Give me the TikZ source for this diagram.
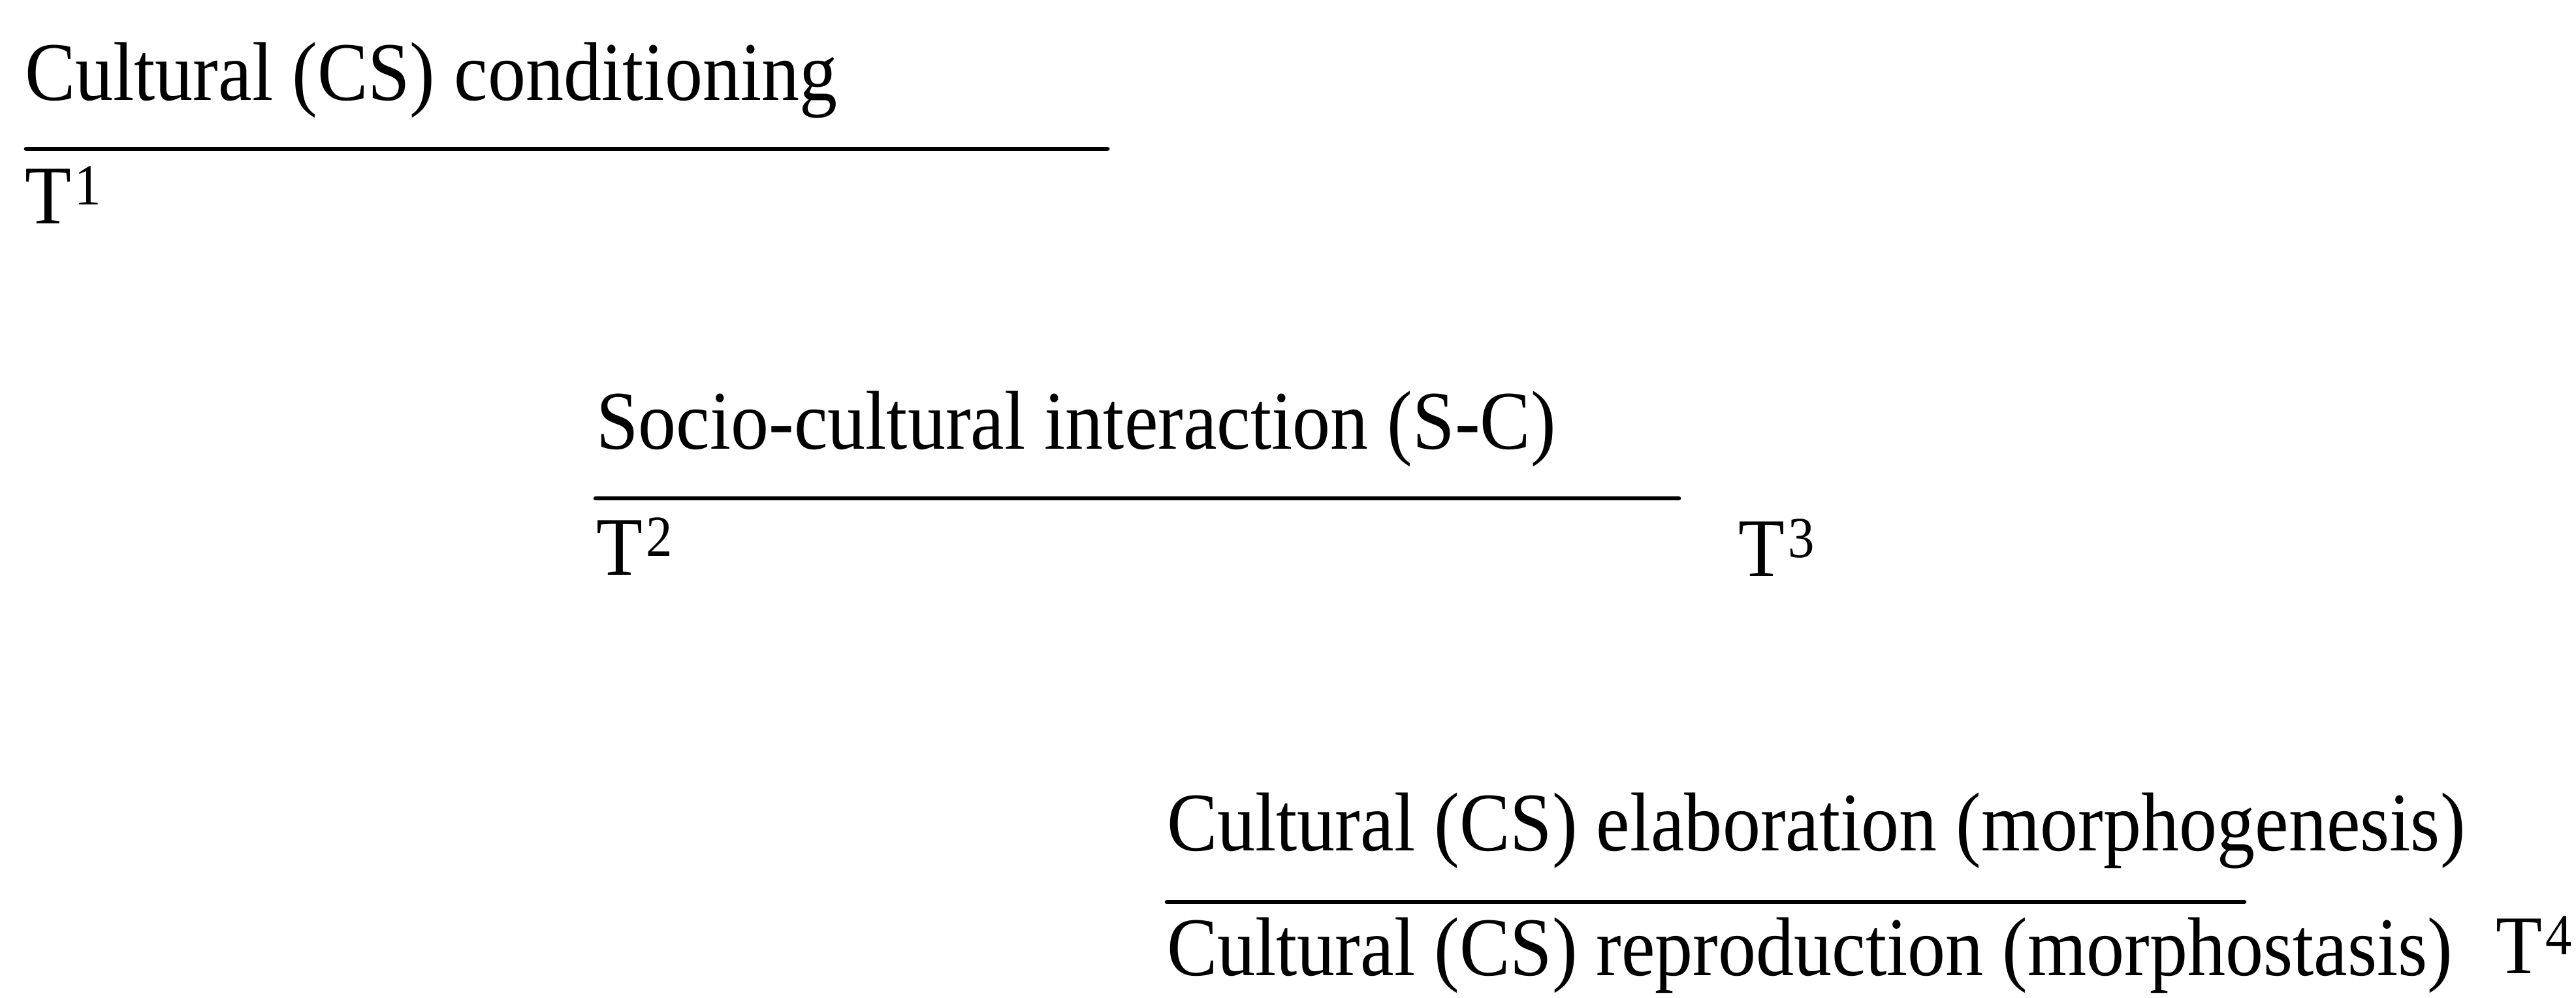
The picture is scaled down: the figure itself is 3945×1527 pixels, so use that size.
\documentclass[tikz,border=0pt]{standalone}
\usepackage{fontspec}
\setmainfont{Liberation Serif}
\newcommand\vst[1]{\scalebox{1}[1.1]{#1}}
\newcommand\tsup[1]{\kern1.5pt\raisebox{7.3pt}{\fontsize{23}{23}\selectfont #1}}
\begin{document}
\begin{tikzpicture}[x=0.01cm,y=-0.01cm,
  lbl/.style={anchor=base west,inner sep=0pt,outer sep=0pt,font=\fontsize{33}{40}\selectfont},
  rule/.style={line width=1.9pt,line cap=round}]
\useasboundingbox[fill=white] (0,0) rectangle (3945,1527);
% stage 1
\node[lbl] (t1text) at (38,153) {\vst{Cultural (CS) conditioning}};
\coordinate (l1a) at (40,228);
\coordinate (l1b) at (1696,228);
\draw[rule] (l1a) -- (l1b);
\node[lbl] (T1) at (38,342) {\vst{T\tsup{1}}};
% stage 2
\node[lbl] (t2text) at (913,687) {\vst{Socio-cultural interaction (S-C)}};
\coordinate (l2a) at (912,763);
\coordinate (l2b) at (2571,763);
\draw[rule] (l2a) -- (l2b);
\node[lbl] (T2) at (913,880) {\vst{T\tsup{2}}};
\node[lbl] (T3) at (2662,882) {\vst{T\tsup{3}}};
% stage 3
\node[lbl] (t3text) at (1787,1302) {\vst{Cultural (CS) elaboration (morphogenesis)}};
\coordinate (l3a) at (1787,1381);
\coordinate (l3b) at (3437,1381);
\draw[rule] (l3a) -- (l3b);
\node[lbl] (t4text) at (1787,1493) {\vst{Cultural (CS) reproduction (morphostasis)}};
\node[lbl] (T4) at (3822,1490) {\vst{T\tsup{4}}};
\end{tikzpicture}
\end{document}
